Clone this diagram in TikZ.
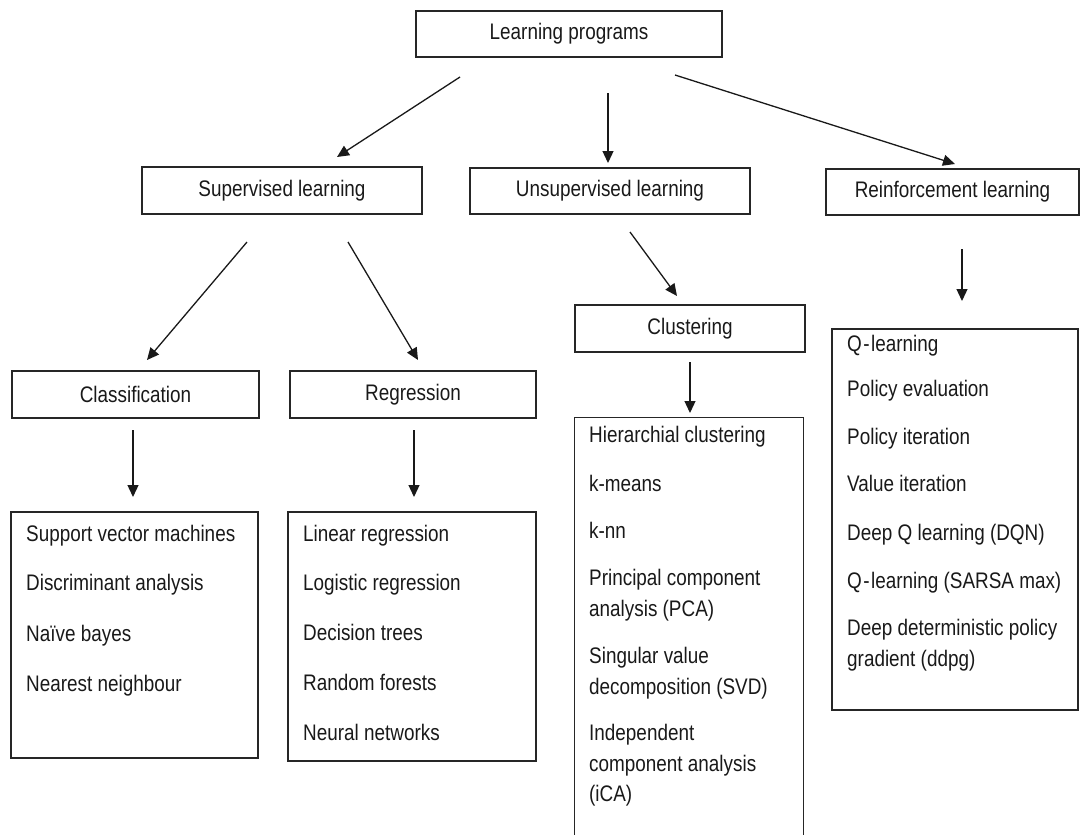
\documentclass[tikz,border=0pt]{standalone}
\usepackage{fontspec}
\setmainfont{Liberation Sans}[FakeStretch=0.84]
\usetikzlibrary{arrows.meta}
\newcommand\lblfont{\fontsize{22.5}{27}\selectfont}
\newcommand\qdash{\kern1.5pt-\kern1.5pt}
\begin{document}
\begin{tikzpicture}[x=1pt,y=-1pt,
  box/.style={draw=black!85,line width=1.2pt,inner sep=0pt,font=\lblfont,text=black!90},
  frame/.style={inner sep=0pt},
  boxline/.style={draw=black!85,line width=1.2pt},
  item/.style={anchor=base west,inner sep=0pt,font=\lblfont,text=black!90},
  arr/.style={line width=1.3pt,draw=black!90,-{Triangle[length=12pt,width=11pt]}}]
\useasboundingbox (0,0) rectangle (1080,835);
% top level
\node[box,minimum width=306pt,minimum height=46pt] (lp) at (569,34) {Learning programs};
% second level
\node[box,minimum width=280pt,minimum height=47pt] (sup) at (282,190.5) {Supervised learning};
\node[box,minimum width=280pt,minimum height=46pt] (uns) at (610,191) {Unsupervised learning};
\node[box,minimum width=253pt,minimum height=46pt] (rei) at (952.5,192) {Reinforcement learning};
% third level
\node[box,minimum width=247pt,minimum height=47pt] (cla) at (135.5,394.5) {Classification};
\node[box,minimum width=246pt,minimum height=47pt] (reg) at (413,394.5) {Regression};
\node[box,minimum width=230pt,minimum height=47pt] (clu) at (690,328.5) {Clustering};
% list boxes
\node[box,minimum width=247pt,minimum height=246pt] (svml) at (134.5,635) {};
\node[box,minimum width=248pt,minimum height=249pt] (regl) at (412,636.5) {};
\node[frame,minimum width=228pt,minimum height=417pt] (clul) at (689,626.5) {};
\draw[boxline] (clul.south west) -- (clul.north west) -- (clul.north east) -- (clul.south east);
\node[box,minimum width=246pt,minimum height=381pt] (reil) at (955,519.5) {};
% list texts
\node[item] (svm1) at (26,541) {Support vector machines};
\node[item] (svm2) at (26,590) {Discriminant analysis};
\node[item] (svm3) at (26,641) {Naïve bayes};
\node[item] (svm4) at (26,691) {Nearest neighbour};
\node[item] (reg1) at (303,541) {Linear regression};
\node[item] (reg2) at (303,590) {Logistic regression};
\node[item] (reg3) at (303,640) {Decision trees};
\node[item] (reg4) at (303,690) {Random forests};
\node[item] (reg5) at (303,740) {Neural networks};
\node[item] (clu1) at (589,442) {Hierarchial clustering};
\node[item] (clu2) at (589,491) {k-means};
\node[item] (clu3) at (589,538) {k-nn};
\node[item] (clu4) at (589,585) {Principal component};
\node[item] (clu4b) at (589,616) {analysis (PCA)};
\node[item] (clu5) at (589,663) {Singular value};
\node[item] (clu5b) at (589,694) {decomposition (SVD)};
\node[item] (clu6) at (589,740) {Independent};
\node[item] (clu6b) at (589,771) {component analysis};
\node[item] (clu6c) at (589,801) {(iCA)};
\node[item] (rei1) at (847,351) {Q\qdash learning};
\node[item] (rei2) at (847,396) {Policy evaluation};
\node[item] (rei3) at (847,444) {Policy iteration};
\node[item] (rei4) at (847,491) {Value iteration};
\node[item] (rei5) at (847,540) {Deep Q learning (DQN)};
\node[item] (rei6) at (847,588) {Q\qdash learning (SARSA max)};
\node[item] (rei7) at (847,635) {Deep deterministic policy};
\node[item] (rei7b) at (847,666) {gradient (ddpg)};
% connector end points
\coordinate (a1s) at (460,77);  \coordinate (a1e) at (337,157);
\coordinate (a2s) at (608,93);  \coordinate (a2e) at (608,163);
\coordinate (a3s) at (675,75);  \coordinate (a3e) at (955,164);
\coordinate (a4s) at (247,242); \coordinate (a4e) at (147,360);
\coordinate (a5s) at (348,242); \coordinate (a5e) at (418,360);
\coordinate (a6s) at (630,232); \coordinate (a6e) at (677,296);
\coordinate (a7s) at (690,362); \coordinate (a7e) at (690,413);
\coordinate (a8s) at (133,430); \coordinate (a8e) at (133,497);
\coordinate (a9s) at (414,430); \coordinate (a9e) at (414,497);
\coordinate (a10s) at (962,249); \coordinate (a10e) at (962,301);
\draw[arr] (a1s) -- (a1e);
\draw[arr] (a2s) -- (a2e);
\draw[arr] (a3s) -- (a3e);
\draw[arr] (a4s) -- (a4e);
\draw[arr] (a5s) -- (a5e);
\draw[arr] (a6s) -- (a6e);
\draw[arr] (a7s) -- (a7e);
\draw[arr] (a8s) -- (a8e);
\draw[arr] (a9s) -- (a9e);
\draw[arr] (a10s) -- (a10e);
\end{tikzpicture}
\end{document}
